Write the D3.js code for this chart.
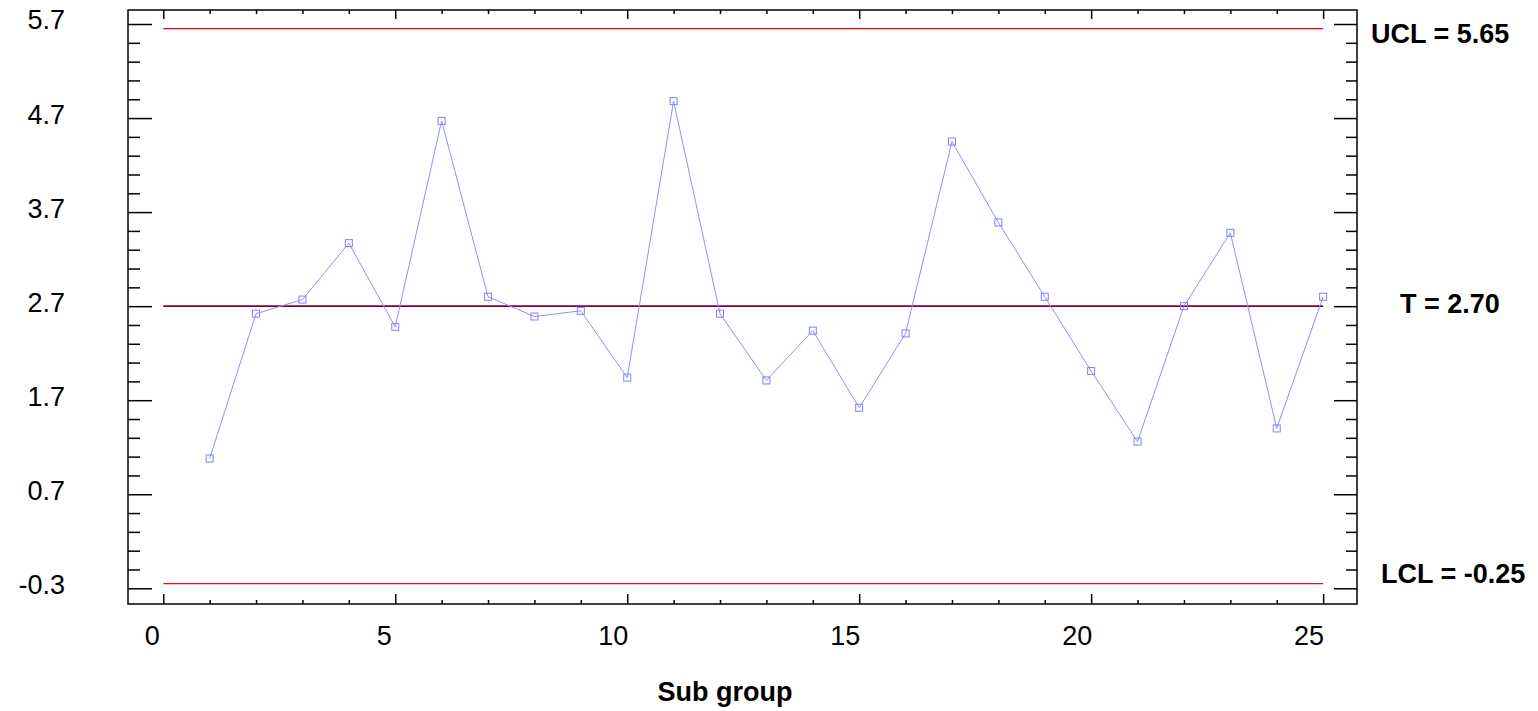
<!DOCTYPE html>
<html>
<head>
<meta charset="utf-8">
<script src="https://cdn.jsdelivr.net/npm/d3@7"></script>
<style>
  html, body { margin: 0; padding: 0; background: #fff; }
  svg { display: block; font-family: Arial, "Liberation Sans", sans-serif; }
</style>
</head>
<body>
<div id="chart"></div>
<script>
// subgroup numbers and the plotted statistic
const subgroups = [1, 2, 3, 4, 5, 6, 7, 8, 9, 10, 11, 12, 13, 14, 15, 16, 17, 18, 19, 20, 21, 22, 23, 24, 25];
const values = [1.08, 2.62, 2.77, 3.37, 2.48, 4.67, 2.80, 2.59, 2.65, 1.94,
                4.88, 2.62, 1.91, 2.44, 1.62, 2.41, 4.45, 3.59, 2.80, 2.01,
                1.26, 2.70, 3.48, 1.40, 2.80];

// control limits
const limitNames = ['UCL', 'T', 'LCL'];
const limitValues = [5.65, 2.70, -0.25];
const limitLabels = ['UCL = 5.65', 'T = 2.70', 'LCL = -0.25'];

// axis ticks
const yTicks = [-0.3, 0.7, 1.7, 2.7, 3.7, 4.7, 5.7];
const yMinorTicks = [-0.1, 0.1, 0.3, 0.5, 0.9, 1.1, 1.3, 1.5, 1.9, 2.1, 2.3, 2.5,
                     2.9, 3.1, 3.3, 3.5, 3.9, 4.1, 4.3, 4.5, 4.9, 5.1, 5.3, 5.5];
const xTicks = [0, 5, 10, 15, 20, 25];
const xMinorTicks = [1, 2, 3, 4, 6, 7, 8, 9, 11, 12, 13, 14, 16, 17, 18, 19, 21, 22, 23, 24];
const xTitle = 'Sub group';

const width = 1538, height = 711;
const margin = { top: 10, right: 181, bottom: 107, left: 128 };

const svg = d3.select('#chart').append('svg')
    .attr('width', width)
    .attr('height', height);

const x = d3.scaleLinear()
    .domain([-0.76, 25.73])
    .range([margin.left, width - margin.right]);

const y = d3.scaleLinear()
    .domain([-0.467, 5.849])
    .range([height - margin.bottom, margin.top]);

const lineColors = { UCL: '#ff0000', T: '#80003a', LCL: '#e01010' };

// limit lines, from subgroup 0 to 25
svg.selectAll('line.limit')
    .data(limitValues)
    .join('line')
    .attr('class', 'limit')
    .attr('x1', x(xTicks[0]))
    .attr('x2', x(xTicks[xTicks.length - 1]))
    .attr('y1', d => y(d))
    .attr('y2', d => y(d))
    .attr('stroke', (d, i) => lineColors[limitNames[i]])
    .attr('stroke-width', (d, i) => limitNames[i] === 'T' ? 1.6 : 1.2);

// data line
const line = d3.line()
    .x((d, i) => x(subgroups[i]))
    .y(d => y(d));

svg.append('path')
    .datum(values)
    .attr('fill', 'none')
    .attr('stroke', '#8f8fff')
    .attr('stroke-width', 1)
    .attr('d', line);

svg.selectAll('rect.pt')
    .data(values)
    .join('rect')
    .attr('class', 'pt')
    .attr('x', (d, i) => x(subgroups[i]) - 3.5)
    .attr('y', d => y(d) - 3.5)
    .attr('width', 7)
    .attr('height', 7)
    .attr('fill', 'none')
    .attr('stroke', '#8080ff')
    .attr('stroke-width', 1);

// frame
svg.append('rect')
    .attr('x', margin.left)
    .attr('y', margin.top)
    .attr('width', width - margin.left - margin.right)
    .attr('height', height - margin.top - margin.bottom)
    .attr('fill', 'none')
    .attr('stroke', '#000')
    .attr('stroke-width', 1.5);

const styleAxis = g => {
    g.select('.domain').remove();
    g.selectAll('line').attr('stroke', '#000').attr('stroke-width', 1.5);
};

// y axes (ticks point inward)
svg.append('g')
    .attr('transform', `translate(${margin.left},0)`)
    .call(d3.axisLeft(y).tickValues(yTicks).tickSize(-24).tickFormat(''))
    .call(styleAxis);
svg.append('g')
    .attr('transform', `translate(${margin.left},0)`)
    .call(d3.axisLeft(y).tickValues(yMinorTicks).tickSize(-12).tickFormat(''))
    .call(styleAxis);
svg.append('g')
    .attr('transform', `translate(${width - margin.right},0)`)
    .call(d3.axisRight(y).tickValues(yTicks).tickSize(-23).tickFormat(''))
    .call(styleAxis);
svg.append('g')
    .attr('transform', `translate(${width - margin.right},0)`)
    .call(d3.axisRight(y).tickValues(yMinorTicks).tickSize(-11).tickFormat(''))
    .call(styleAxis);

// x axes
svg.append('g')
    .attr('transform', `translate(0,${height - margin.bottom})`)
    .call(d3.axisBottom(x).tickValues(xTicks).tickSize(-10).tickFormat(''))
    .call(styleAxis);
svg.append('g')
    .attr('transform', `translate(0,${height - margin.bottom})`)
    .call(d3.axisBottom(x).tickValues(xMinorTicks).tickSize(-4).tickFormat(''))
    .call(styleAxis);
svg.append('g')
    .attr('transform', `translate(0,${margin.top})`)
    .call(d3.axisTop(x).tickValues(xTicks).tickSize(-9).tickFormat(''))
    .call(styleAxis);
svg.append('g')
    .attr('transform', `translate(0,${margin.top})`)
    .call(d3.axisTop(x).tickValues(xMinorTicks).tickSize(-4).tickFormat(''))
    .call(styleAxis);

// tick labels
svg.selectAll('text.ylab')
    .data(yTicks)
    .join('text')
    .attr('class', 'ylab')
    .attr('x', margin.left - 63)
    .attr('y', d => y(d) - 4)
    .attr('dy', '0.35em')
    .attr('text-anchor', 'end')
    .style('font-size', '27px')
    .text(d => d.toFixed(1));

svg.selectAll('text.xlab')
    .data(xTicks)
    .join('text')
    .attr('class', 'xlab')
    .attr('x', d => x(d) - (d < 10 ? 11 : 14))
    .attr('y', height - margin.bottom + 41)
    .attr('text-anchor', 'middle')
    .style('font-size', '27px')
    .text(d => d);

// limit labels to the right of the frame
const labelOffsets = [14, 43, 24];
const labelShift = [5, -3, -10];
svg.selectAll('text.limlab')
    .data(limitLabels)
    .join('text')
    .attr('class', 'limlab')
    .attr('x', (d, i) => width - margin.right + labelOffsets[i])
    .attr('y', (d, i) => y(limitValues[i]) + labelShift[i])
    .attr('dy', '0.35em')
    .style('font-size', '27px')
    .style('font-weight', 'bold')
    .text(d => d);

svg.append('text')
    .attr('x', 725)
    .attr('y', height - 10)
    .attr('text-anchor', 'middle')
    .style('font-size', '27px')
    .style('font-weight', 'bold')
    .text(xTitle);
</script>
</body>
</html>
